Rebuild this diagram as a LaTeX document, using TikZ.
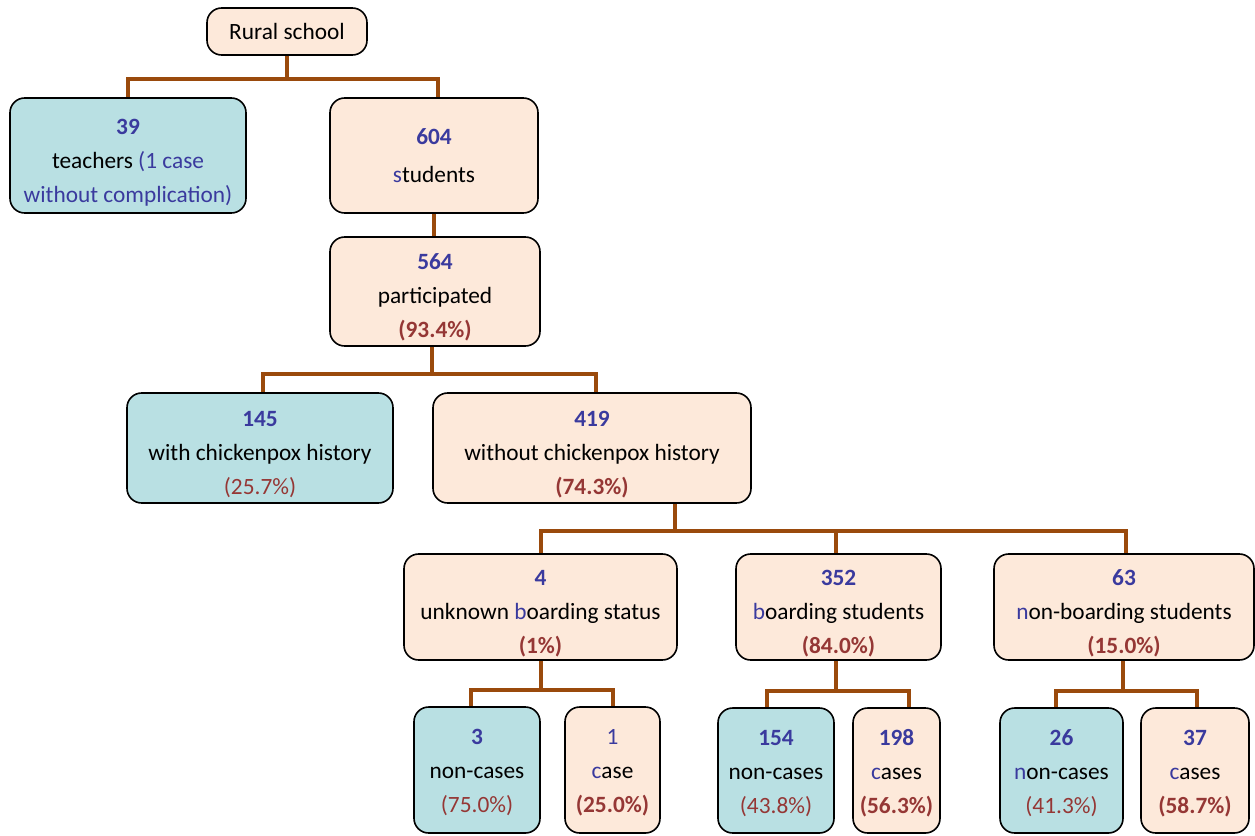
\documentclass[tikz,border=0pt]{standalone}
\usepackage{fontspec}
\setmainfont{Carlito}
\usetikzlibrary{calc}
\definecolor{peach}{HTML}{FDE9DA}
\definecolor{aqua}{HTML}{B9E0E3}
\definecolor{conn}{HTML}{9A4A0C}
\definecolor{txtblue}{HTML}{3A3A9E}
\definecolor{txtred}{HTML}{953735}
\newcommand{\nb}[1]{\textcolor{txtblue}{\bfseries #1}}
\newcommand{\bl}[1]{\textcolor{txtblue}{#1}}
\newcommand{\pb}[1]{\textcolor{txtred}{\bfseries #1}}
\newcommand{\pn}[1]{\textcolor{txtred}{#1}}
\newcommand{\tx}[2]{\raisebox{-#1}[\height][\depth]{\begin{tabular}{@{}c@{}}#2\end{tabular}}}
\begin{document}
\begin{tikzpicture}[x=0.75pt,y=-0.75pt,
  box/.style={draw=black, line width=1.2pt, rounded corners=11pt, inner sep=0pt, align=center,
     font=\fontsize{17.5}{25.5}\selectfont},
  pch/.style={box, fill=peach},
  aq/.style={box, fill=aqua},
  link/.style={draw=conn, line width=3pt}]
\useasboundingbox (0,0) rectangle (1255,835);

\node[pch, minimum width=120pt, minimum height=35.25pt] (root) at (287,31.5) {Rural school};

\node[aq, minimum width=177pt, minimum height=86.25pt] (teach) at (128,155.5)
  {\tx{4.5pt}{\nb{39}\\teachers \bl{(1 case}\\\bl{without complication)}}};
\node[pch, minimum width=156pt, minimum height=86.25pt, font=\fontsize{17.5}{28.5}\selectfont] (stud) at (434,155.5)
  {\tx{0pt}{\nb{604}\\\bl{s}tudents}};

\node[pch, minimum width=157.5pt, minimum height=81.75pt] (part) at (435,291.5)
  {\tx{4pt}{\nb{564}\\participated\\\pb{(93.4\%)}}};

\node[aq, minimum width=199.5pt, minimum height=82.5pt] (hist) at (260,448)
  {\tx{4.5pt}{\nb{145}\\with chickenpox history\\\pn{(25.7\%)}}};
\node[pch, minimum width=238.5pt, minimum height=82.5pt] (nohist) at (592,448)
  {\tx{4.5pt}{\nb{419}\\without chickenpox history\\\pb{(74.3\%)}}};

\node[pch, minimum width=204.75pt, minimum height=79.5pt] (unk) at (540.5,607)
  {\tx{4pt}{\nb{4}\\unknown \bl{b}oarding status\\\pb{(1\%)}}};
\node[pch, minimum width=153.75pt, minimum height=79.5pt] (board) at (838.5,607)
  {\tx{4pt}{\nb{352}\\\bl{b}oarding students\\\pb{(84.0\%)}}};
\node[pch, minimum width=195pt, minimum height=79.5pt] (nonb) at (1124,607)
  {\tx{4pt}{\nb{63}\\\bl{n}on-boarding students\\\pb{(15.0\%)}}};

\node[aq, minimum width=94.5pt, minimum height=94.5pt] (u1) at (477,770)
  {\tx{1.5pt}{\nb{3}\\non-cases\\\pn{(75.0\%)}}};
\node[pch, minimum width=71.25pt, minimum height=94.5pt] (u2) at (612.5,770)
  {\tx{1.5pt}{\bl{1}\\\bl{c}ase\\\pb{(25.0\%)}}};
\node[aq, minimum width=87pt, minimum height=93.75pt] (b1) at (776,770.5)
  {\tx{1.5pt}{\nb{154}\\non-cases\\\pn{(43.8\%)}}};
\node[pch, minimum width=65.25pt, minimum height=93.75pt] (b2) at (896.5,770.5)
  {\tx{1.5pt}{\nb{198}\\\bl{c}ases\\\pb{(56.3\%)}}};
\node[aq, minimum width=92.25pt, minimum height=93.75pt] (n1) at (1061.5,770.5)
  {\tx{1.5pt}{\nb{26}\\\bl{n}on-cases\\\pn{(41.3\%)}}};
\node[pch, minimum width=81pt, minimum height=93.75pt] (n2) at (1195,770.5)
  {\tx{1.5pt}{\nb{37}\\\bl{c}ases\\\pb{(58.7\%)}}};

% connectors
\coordinate (r0) at ($(root.south)+(0,23)$);
\draw[link] (root.south) -- (r0) -| (teach.north);
\draw[link] (r0) -| ($(stud.north)+(4,0)$);
\draw[link] (stud.south) -- (stud.south |- part.north);
\coordinate (p0) at ($(part.south)+(-3,27)$);
\draw[link] ($(part.south)+(-3,0)$) -- (p0) -| ($(hist.north)+(3,0)$);
\draw[link] (p0) -| ($(nohist.north)+(4,0)$);
\coordinate (h0) at ($(nohist.south)+(83,27)$);
\draw[link] ($(nohist.south)+(83,0)$) -- (h0) -| (unk.north);
\draw[link] (h0) -| ($(board.north)+(-3,0)$);
\draw[link] (h0) -| ($(nonb.north)+(2,0)$);
\coordinate (k0) at ($(unk.south)+(0,29)$);
\draw[link] (unk.south) -- (k0) -| ($(u1.north)+(-6,0)$);
\draw[link] (k0) -| (u2.north);
\coordinate (b0) at ($(board.south)+(-3,30)$);
\draw[link] ($(board.south)+(-3,0)$) -- (b0) -| ($(b1.north)+(-9,0)$);
\draw[link] (b0) -| ($(b2.north)+(12,0)$);
\coordinate (m0) at ($(nonb.south)+(-1,30)$);
\draw[link] ($(nonb.south)+(-1,0)$) -- (m0) -| ($(n1.north)+(-6,0)$);
\draw[link] (m0) -| ($(n2.north)+(2,0)$);
\end{tikzpicture}
\end{document}
